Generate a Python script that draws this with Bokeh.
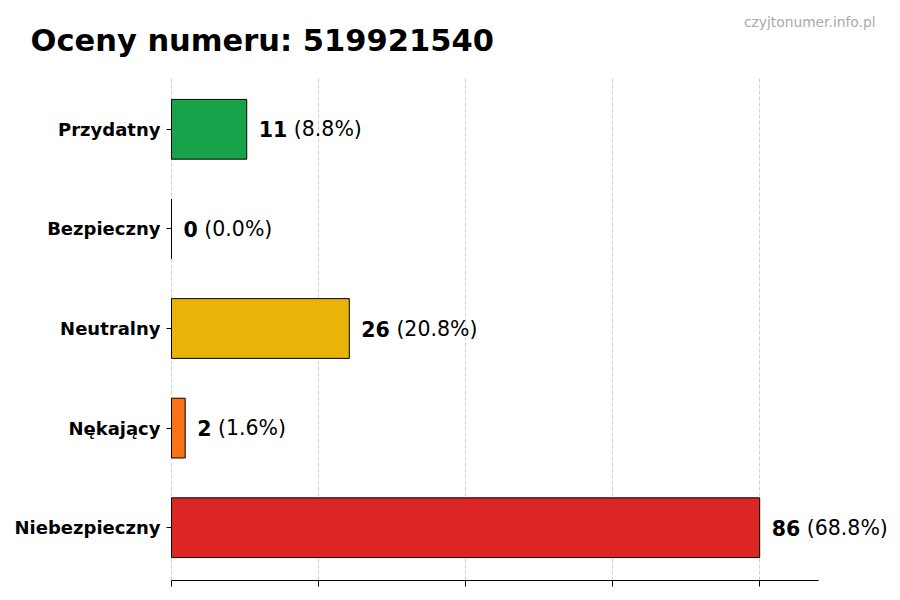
from bokeh.plotting import figure
from bokeh.models import Label, LabelSet, FixedTicker, Range1d, ColumnDataSource
from bokeh.embed import file_html
from bokeh.resources import INLINE
from bokeh.core.properties import value

# ---- data ----
title_text = "Oceny numeru: 519921540"
watermark = "czyjtonumer.info.pl"
categories = ["Przydatny", "Bezpieczny", "Neutralny", "Nękający", "Niebezpieczny"]
counts = [11, 0, 26, 2, 86]
colors = ["#16a34a", "#2563eb", "#eab308", "#f97316", "#dc2626"]

total = sum(counts)
n = len(categories)
ypos = [n - 1 - i for i in range(n)]
max_val = max(counts)
pct = ["(%.1f%%)" % (c / total * 100) for c in counts]
num_txt = [str(c) for c in counts]

FONT = "DejaVu Sans"
LABEL_PX = 20.5
DIGIT_W = 0.696 * LABEL_PX
SPACE_W = 0.318 * LABEL_PX
BASE_OFF = 12
pct_off = [BASE_OFF + len(t) * DIGIT_W + SPACE_W for t in num_txt]

src = ColumnDataSource(dict(y=ypos, v=counts, color=colors, num=num_txt,
                            pct=pct, pct_off=pct_off))

# layout (pixels): plot area of the original chart
W, H = 892, 592
FL, AXR, FT, FB = 171, 818, 76, 580
AX_END = max_val * 1.1
YA0, YA1 = -0.53, n - 1 + 0.53
KX = (AXR - FL) / AX_END           # px per x unit
KY = (FB - FT) / (YA1 - YA0)       # px per y unit
# the frame covers the whole canvas above the x axis, so texts are not clipped
X0, X1 = -FL / KX, (W - FL) / KX
Y0, Y1 = YA0, YA0 + FB / KY


def px_to_x(px):
    return (px - FL) / KX


def py_to_y(py):
    return YA0 + (FB - py) / KY


p = figure(width=W, height=H, output_backend="svg", toolbar_location=None,
           x_range=Range1d(X0, X1), y_range=Range1d(Y0, Y1),
           min_border=0, min_border_bottom=H - FB)
p.outline_line_color = None
p.background_fill_color = "white"
p.border_fill_color = "white"

p.hbar(y="y", left=0, right="v", height=0.6, fill_color="color",
       line_color="black", line_width=1, source=src)

p.add_layout(LabelSet(x="v", y="y", text="num", x_offset=BASE_OFF,
                      text_baseline="middle", text_align="left",
                      text_font=value(FONT), text_font_style="bold",
                      text_font_size=value("%.1fpx" % LABEL_PX),
                      text_color="black", source=src))
p.add_layout(LabelSet(x="v", y="y", text="pct", x_offset="pct_off",
                      text_baseline="middle", text_align="left",
                      text_font=value(FONT), text_font_style="normal",
                      text_font_size=value("%.1fpx" % LABEL_PX),
                      text_color="black", source=src))

xticks = [max_val * i / 4 for i in range(5)]

# grid
p.ygrid.grid_line_color = None
p.xgrid.ticker = FixedTicker(ticks=xticks)
p.xgrid.cross_bounds = (YA0, YA1)
p.xgrid.grid_line_color = "#d0d0d0"
p.xgrid.grid_line_dash = "4 2"
p.xgrid.grid_line_width = 1
p.xgrid.level = "underlay"

# x axis (ticks without labels)
p.xaxis.ticker = FixedTicker(ticks=xticks)
p.xaxis.bounds = (0, AX_END)
p.xaxis.major_label_overrides = {t: "" for t in xticks}
p.xaxis.major_label_text_font_size = "10px"
p.xaxis.major_label_standoff = 0
p.xaxis.minor_tick_line_color = None
p.xaxis.major_tick_in = 0
p.xaxis.major_tick_out = 6
p.xaxis.axis_line_color = "black"
p.xaxis.major_tick_line_color = "black"

# y axis, placed at x = 0
p.yaxis.fixed_location = 0
p.yaxis.ticker = FixedTicker(ticks=ypos)
p.yaxis.major_label_overrides = {y: c for y, c in zip(ypos, categories)}
p.yaxis.axis_line_color = None
p.yaxis.minor_tick_line_color = None
p.yaxis.major_tick_in = 0
p.yaxis.major_tick_out = 5
p.yaxis.major_tick_line_color = "black"
p.yaxis.major_label_text_font = FONT
p.yaxis.major_label_text_font_style = "bold"
p.yaxis.major_label_text_font_size = "18px"
p.yaxis.major_label_text_color = "black"
p.yaxis.major_label_standoff = 6

# title and watermark
p.add_layout(Label(x=px_to_x(30), y=py_to_y(40),
                   text=title_text, text_font=FONT, text_font_style="bold",
                   text_font_size="30.5px", text_color="black",
                   text_baseline="alphabetic", text_align="left"))
p.add_layout(Label(x=px_to_x(875), y=py_to_y(21),
                   text=watermark, text_font=FONT, text_font_size="13.8px",
                   text_color="#aaaaaa", text_baseline="alphabetic",
                   text_align="right"))

open("out.html", "w").write(file_html(p, INLINE))
